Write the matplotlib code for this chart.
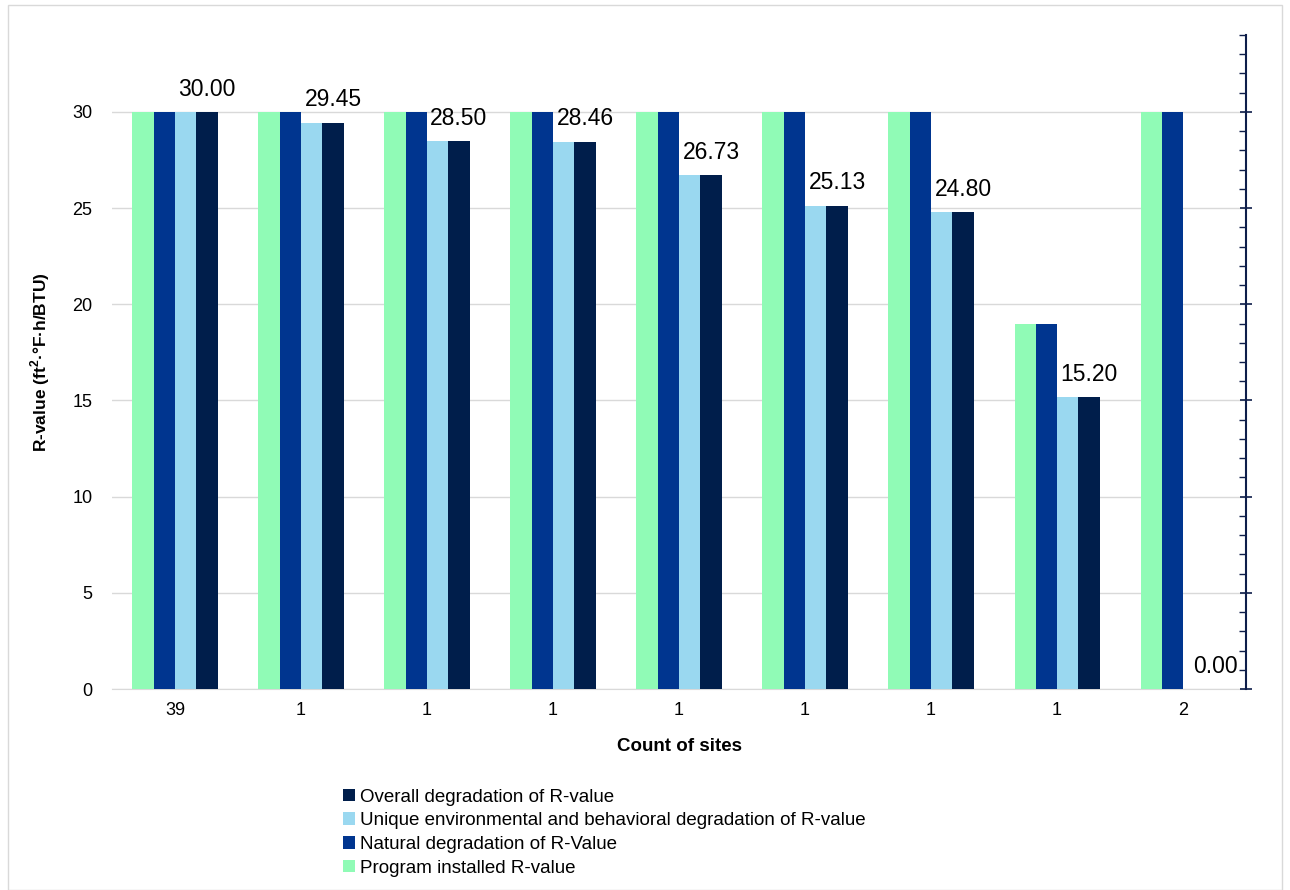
import numpy as np
import matplotlib.pyplot as plt
from matplotlib.patches import Rectangle
from matplotlib.ticker import MultipleLocator

categories = ['39', '1', '1', '1', '1', '1', '1', '1', '2']
program_installed = [30, 30, 30, 30, 30, 30, 30, 19, 30]
natural_degradation = [30, 30, 30, 30, 30, 30, 30, 19, 30]
unique_degradation = [30, 29.45, 28.50, 28.46, 26.73, 25.13, 24.80, 15.20, 0]
overall_degradation = [30, 29.45, 28.50, 28.46, 26.73, 25.13, 24.80, 15.20, 0]

series_names = ['Program installed R-value', 'Natural degradation of R-Value',
                'Unique environmental and behavioral degradation of R-value',
                'Overall degradation of R-value']
colors = ['#90FBB6', '#00358F', '#9AD8F0', '#001E4B']

plt.rcParams['font.family'] = ['Liberation Sans', 'DejaVu Sans']
plt.rcParams['mathtext.fontset'] = 'custom'
plt.rcParams['mathtext.rm'] = 'Liberation Sans'
plt.rcParams['mathtext.bf'] = 'Liberation Sans:bold'

fig = plt.figure(figsize=(12.9, 8.9), dpi=100)
ax = fig.add_axes([0.0868, 0.2258, 0.966 - 0.0868, 0.9607 - 0.2258])

x = np.arange(len(categories))
w = 0.169
series = [program_installed, natural_degradation, unique_degradation, overall_degradation]
bars = []
for i, (vals, c, name) in enumerate(zip(series, colors, series_names)):
    b = ax.bar(x + (i - 1.5) * w, vals, w, color=c, label=name, zorder=3)
    bars.append(b)

# data labels on the overall series
for xi, v in zip(x + 1.5 * w, overall_degradation):
    ax.annotate('%.2f' % v, (xi, v), xytext=(0, 8), textcoords='offset points',
                ha='center', va='bottom', fontsize=16.5, color='black')

ax.set_xlim(-0.5, len(categories) - 0.5)
ax.set_ylim(0, 34)
ax.set_yticks([0, 5, 10, 15, 20, 25, 30])
ax.set_xticks(x)
ax.set_xticklabels(categories, fontsize=13)
ax.tick_params(axis='y', length=0, labelsize=13, pad=14)
ax.tick_params(axis='x', length=0, pad=9)
ax.grid(axis='y', color='#D9D9D9', linewidth=1, zorder=0)
for s in ['top', 'left', 'right']:
    ax.spines[s].set_visible(False)
ax.spines['bottom'].set_color('#D9D9D9')
ax.set_xlabel('Count of sites', fontsize=13.5, fontweight='bold', labelpad=14)
ax.set_ylabel(r'R-value (ft$^{\mathbf{2}}$·°F·h/BTU)', fontsize=12.5,
              fontweight='bold', labelpad=15)

# secondary axis on the right, ticks only
ax2 = ax.twinx()
ax2.set_ylim(0, 34)
ax2.yaxis.set_major_locator(MultipleLocator(5))
ax2.yaxis.set_minor_locator(MultipleLocator(1))
ax2.tick_params(axis='y', which='major', direction='inout', length=9, width=1.2,
                color='#0E1E4A', labelright=False)
ax2.tick_params(axis='y', which='minor', direction='in', length=5, width=1,
                color='#0E1E4A')
for s in ['top', 'left', 'bottom']:
    ax2.spines[s].set_visible(False)
ax2.spines['right'].set_color('#0E1E4A')
ax2.spines['right'].set_linewidth(1.5)

handles = bars[::-1]
leg = fig.legend(handles, series_names[::-1], loc='upper left',
                 bbox_to_anchor=(335 / 1290, 1 - 781 / 890), frameon=False,
                 fontsize=13.5, handlelength=0.65, handleheight=0.65,
                 handletextpad=0.3, labelspacing=0.36, borderaxespad=0)

fig.patches.append(Rectangle((8 / 1290, 0.0), 1 - 16 / 1290, 1 - 5 / 890,
                             transform=fig.transFigure, fill=False,
                             edgecolor='#D9D9D9', linewidth=1))

fig.savefig('out.png', dpi=100)
